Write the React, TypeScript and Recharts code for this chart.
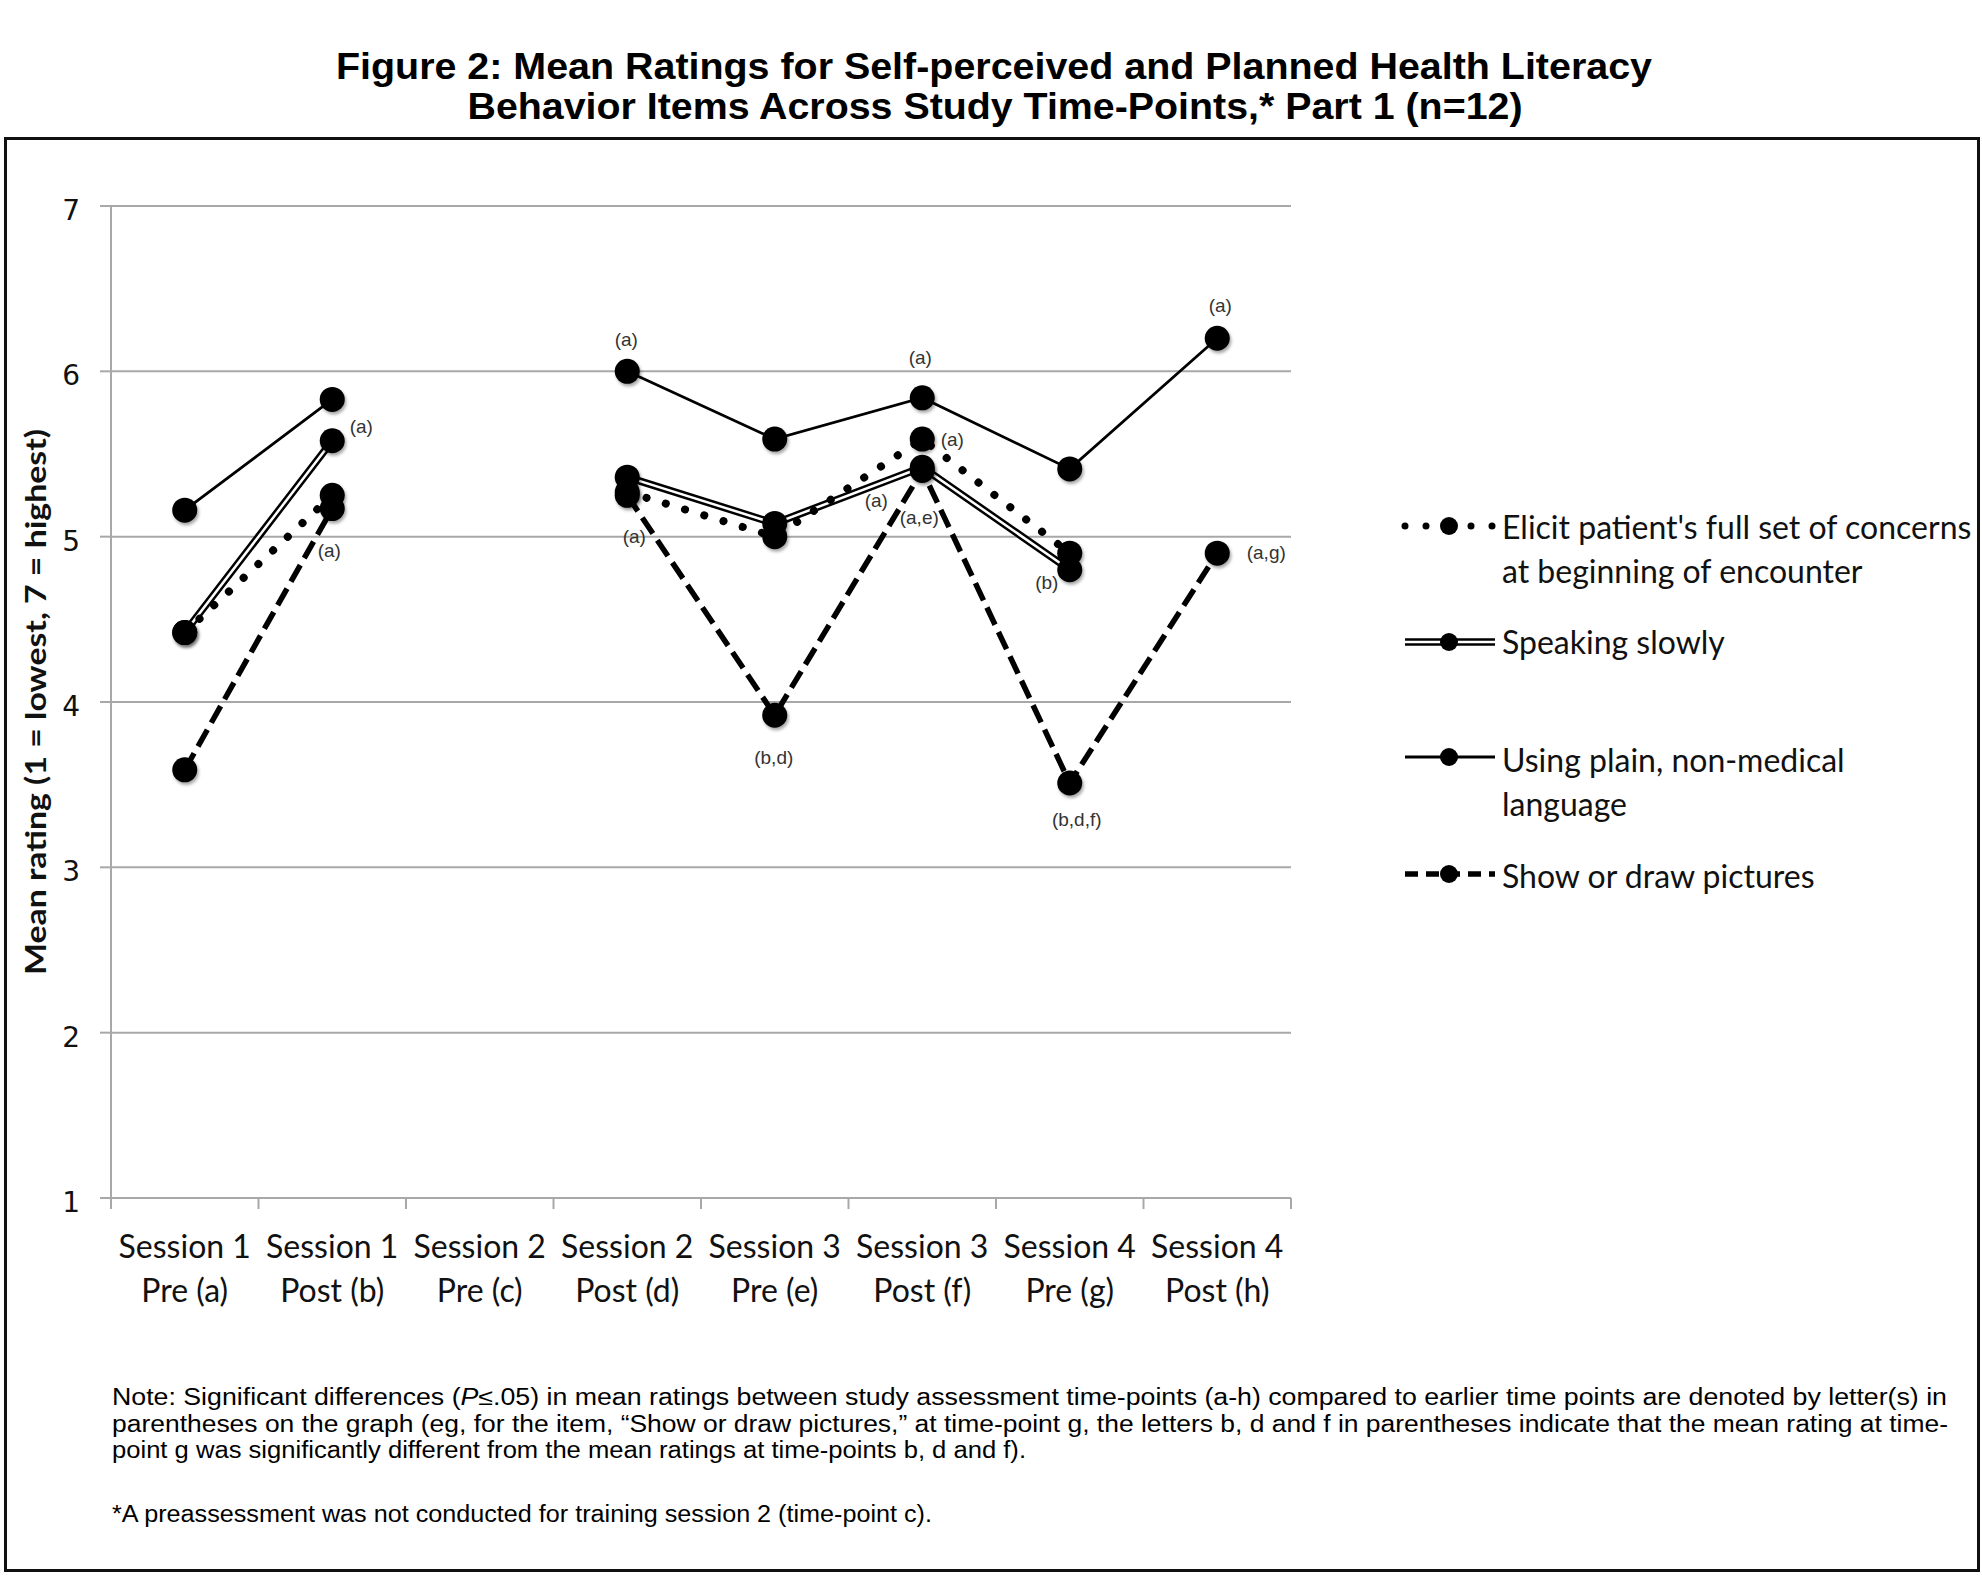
import React from 'react';
import { LineChart, Line, XAxis, YAxis, CartesianGrid, Legend, LabelList, Label } from 'recharts';

// ---------- data ----------
const sessionNames = ['Session 1', 'Session 1', 'Session 2', 'Session 2', 'Session 3', 'Session 3', 'Session 4', 'Session 4'];
const timePoints = ['Pre (a)', 'Post (b)', 'Pre (c)', 'Post (d)', 'Pre (e)', 'Post (f)', 'Pre (g)', 'Post (h)'];

const elicitValues = [4.42, 5.25, null, 5.27, 5.0, 5.59, 4.9, null];
const speakingValues = [4.42, 5.58, null, 5.36, 5.08, 5.42, 4.8, null];
const plainValues = [5.16, 5.83, null, 6.0, 5.59, 5.84, 5.41, 6.2];
const picturesValues = [3.59, 5.17, null, 5.25, 3.92, 5.4, 3.51, 4.9];

const elicitSig = [null, null, null, null, null, '(a)', null, null];
const speakingSig = [null, '(a)', null, null, null, '(a)', '(b)', null];
const plainSig = [null, null, null, '(a)', null, '(a)', null, '(a)'];
const picturesSig = [null, '(a)', null, '(a)', '(b,d)', '(a,e)', '(b,d,f)', '(a,g)'];

const yTicks = [1, 2, 3, 4, 5, 6, 7];

const titleLines = [
  'Figure 2: Mean Ratings for Self-perceived and Planned Health Literacy',
  'Behavior Items Across Study Time-Points,* Part 1 (n=12)',
];
const yAxisTitle = 'Mean rating (1 = lowest, 7 = highest)';
const legendLabels = [
  ["Elicit patient's full set of concerns", 'at beginning of encounter'],
  ['Speaking slowly'],
  ['Using plain, non-medical', 'language'],
  ['Show or draw pictures'],
];
const noteLines = [
  'Note: Significant differences (P≤.05) in mean ratings between study assessment time-points (a-h) compared to earlier time points are denoted by letter(s) in',
  'parentheses on the graph (eg, for the item, \u201cShow or draw pictures,\u201d at time-point g, the letters b, d and f in parentheses indicate that the mean rating at time-',
  'point g was significantly different from the mean ratings at time-points b, d and f).',
  '*A preassessment was not conducted for training session 2 (time-point c).',
];

const data = timePoints.map((tp, i) => ({
  tp,
  session: sessionNames[i],
  elicit: elicitValues[i],
  speaking: speakingValues[i],
  plain: plainValues[i],
  pictures: picturesValues[i],
  elicitSig: elicitSig[i],
  speakingSig: speakingSig[i],
  plainSig: plainSig[i],
  picturesSig: picturesSig[i],
}));

// ---------- styles ----------
const GRID = '#a8a8a8';
const CAL = "Lato, 'Open Sans', sans-serif";
const ARIAL = "'Liberation Sans', Arial, Helvetica, sans-serif";
const DOT_R = 12.5;

const labelOffsets: Record<string, Record<number, [number, number]>> = {
  elicit: { 5: [30, 0] },
  speaking: { 1: [29, -14], 5: [-46, 33], 6: [-23, 13] },
  plain: { 3: [-1, -32], 5: [-2, -40], 7: [3, -33] },
  pictures: { 1: [-3, 42], 3: [7, 41], 4: [-1, 42], 5: [-3, 47], 6: [7, 36], 7: [49, -1] },
};

const renderDot = (props: any) => {
  const { cx, cy, index } = props;
  if (cx == null || cy == null || Number.isNaN(cy)) return <g key={'n' + index} />;
  return <circle key={'d' + index} cx={cx} cy={cy} r={DOT_R} fill="#000" filter="url(#dotShadow)" />;
};

const makeLabel = (series: string) => (props: any) => {
  const { x, y, value, index } = props;
  if (value == null || value === '' || x == null || y == null) return null;
  const off = labelOffsets[series][index] || [0, 0];
  return (
    <text
      key={series + index}
      x={x + off[0]}
      y={y + off[1]}
      textAnchor="middle"
      dominantBaseline="central"
      fontFamily={ARIAL}
      fontSize={19}
      fill="#333"
    >
      {value}
    </text>
  );
};

const XTick = (props: any) => {
  const { x, y, index, width, visibleTicksCount } = props;
  const half = width / visibleTicksCount / 2;
  const last = index === visibleTicksCount - 1;
  return (
    <g>
      <line x1={x - half} x2={x - half} y1={y} y2={y + 11} stroke={GRID} strokeWidth={2} />
      {last && <line x1={x + half} x2={x + half} y1={y} y2={y + 11} stroke={GRID} strokeWidth={2} />}
      <text x={x} y={y + 60} textAnchor="middle" fontFamily={CAL} fontSize={32} fill="#111">
        {sessionNames[index]}
      </text>
      <text x={x} y={y + 104} textAnchor="middle" fontFamily={CAL} fontSize={32} fill="#111">
        {timePoints[index]}
      </text>
    </g>
  );
};

const YTick = (props: any) => {
  const { x, y, payload } = props;
  return (
    <text x={x} y={y + 4} dy="0.355em" textAnchor="end" fontFamily="'DejaVu Sans', Verdana, sans-serif" fontSize={28} fill="#111">
      {payload.value}
    </text>
  );
};

const YTitle = (props: any) => {
  const vb = props.viewBox || {};
  const cx = vb.x - 16;
  const cy = vb.y + vb.height / 2;
  return (
    <text
      x={cx}
      y={cy}
      transform={`rotate(-90 ${cx} ${cy})`}
      textAnchor="middle"
      dominantBaseline="central"
      fontFamily={CAL}
      fontWeight="bold"
      fontSize={28}
      fill="#111"
      textLength={546}
      lengthAdjust="spacingAndGlyphs"
    >
      {yAxisTitle}
    </text>
  );
};

const LegendContent = () => {
  const x0 = 15;
  const x1 = 105;
  const mx = 60;
  const tx = 112;
  const rows = [46, 162, 277, 394];
  const baselines = [[59, 103], [174], [292, 336], [408]];
  return (
    <svg width={590} height={440} style={{ display: 'block' }}>
      <g>
        {[15, 36, 81, 102].map((cx) => (
          <circle key={cx} cx={cx} cy={rows[0]} r={3.5} fill="#000" />
        ))}
        <circle cx={mx - 1} cy={rows[0]} r={9} fill="#000" />
      </g>
      <g>
        <line x1={x0} x2={x1} y1={rows[1]} y2={rows[1]} stroke="#000" strokeWidth={7.5} />
        <line x1={x0 - 1} x2={x1 + 1} y1={rows[1]} y2={rows[1]} stroke="#fff" strokeWidth={2.5} />
        <circle cx={mx - 1} cy={rows[1]} r={9} fill="#000" />
      </g>
      <g>
        <line x1={x0} x2={x1} y1={rows[2]} y2={rows[2]} stroke="#000" strokeWidth={3} />
        <circle cx={mx - 1} cy={rows[2]} r={9} fill="#000" />
      </g>
      <g>
        <line x1={x0} x2={x1} y1={rows[3]} y2={rows[3]} stroke="#000" strokeWidth={5.5} strokeDasharray="13 8" />
        <circle cx={mx - 1} cy={rows[3]} r={9} fill="#000" />
      </g>
      {legendLabels.map((lines, i) =>
        lines.map((ln, j) => (
          <text key={i + '-' + j} x={tx} y={baselines[i][j]} fontFamily={CAL} fontSize={32} fill="#111">
            {ln}
          </text>
        ))
      )}
    </svg>
  );
};

export default function App() {
  const [pre, post] = noteLines[0].split('(P');
  return (
    <div style={{ position: 'absolute', left: 0, top: 0, width: 1982, height: 1583, background: '#fff', overflow: 'hidden' }}>
      <div
        style={{
          position: 'absolute',
          left: 4,
          top: 137,
          width: 1976,
          height: 1435,
          border: '3px solid #111',
          boxSizing: 'border-box',
        }}
      />
      <div style={{ position: 'absolute', left: 0, top: 0 }}>
        <LineChart width={1982} height={1583} data={data} margin={{ top: 206, right: 691, bottom: 265, left: 51 }}>
          <defs>
            <filter id="dotShadow" x="-60%" y="-60%" width="220%" height="220%">
              <feDropShadow dx="1.5" dy="2.5" stdDeviation="1.8" floodColor="#000" floodOpacity="0.35" />
            </filter>
          </defs>
          <CartesianGrid horizontal vertical={false} stroke={GRID} strokeWidth={2} />
          <XAxis
            dataKey="tp"
            scale="band"
            interval={0}
            height={120}
            tickLine={false}
            tickSize={0}
            tickMargin={0}
            axisLine={{ stroke: GRID, strokeWidth: 2 }}
            tick={(p: any) => <XTick {...p} />}
          />
          <YAxis
            type="number"
            domain={[1, 7]}
            ticks={yTicks}
            interval={0}
            width={60}
            tickSize={11}
            tickMargin={20}
            tickLine={{ stroke: GRID, strokeWidth: 2 }}
            axisLine={{ stroke: GRID, strokeWidth: 2 }}
            tick={(p: any) => <YTick {...p} />}
            label={<Label content={(p: any) => <YTitle {...p} />} />}
          />
          <Line
            dataKey="plain"
            stroke="#000"
            strokeWidth={2.75}
            dot={renderDot}
            activeDot={false}
            isAnimationActive={false}
            connectNulls={false}
            legendType="none"
          >
            <LabelList dataKey="plainSig" content={makeLabel('plain')} />
          </Line>
          <Line
            dataKey="pictures"
            stroke="#000"
            strokeWidth={5.5}
            strokeDasharray="19 8"
            dot={renderDot}
            activeDot={false}
            isAnimationActive={false}
            connectNulls={false}
            legendType="none"
          >
            <LabelList dataKey="picturesSig" content={makeLabel('pictures')} />
          </Line>
          <Line
            dataKey="speaking"
            stroke="#000"
            strokeWidth={7.5}
            dot={false}
            activeDot={false}
            isAnimationActive={false}
            connectNulls={false}
            legendType="none"
          />
          <Line
            dataKey="speaking"
            stroke="#fff"
            strokeWidth={2.5}
            dot={renderDot}
            activeDot={false}
            isAnimationActive={false}
            connectNulls={false}
            legendType="none"
          >
            <LabelList dataKey="speakingSig" content={makeLabel('speaking')} />
          </Line>
          <Line
            dataKey="elicit"
            stroke="#000"
            strokeWidth={8}
            strokeDasharray="0.1 20"
            strokeLinecap="round"
            dot={renderDot}
            activeDot={false}
            isAnimationActive={false}
            connectNulls={false}
            legendType="none"
          >
            <LabelList dataKey="elicitSig" content={makeLabel('elicit')} />
          </Line>
          <Legend
            layout="vertical"
            align="center"
            verticalAlign="middle"
            wrapperStyle={{ position: 'absolute', left: 1390, top: 480, width: 590, height: 440 }}
            content={() => <LegendContent />}
          />
        </LineChart>
      </div>
      <svg width={1982} height={1583} style={{ position: 'absolute', left: 0, top: 0, pointerEvents: 'none' }}>
        <text x={994} y={79} textAnchor="middle" fontFamily={ARIAL} fontWeight="bold" fontSize={37} fill="#000" textLength={1316} lengthAdjust="spacingAndGlyphs">
          {titleLines[0]}
        </text>
        <text x={995} y={119} textAnchor="middle" fontFamily={ARIAL} fontWeight="bold" fontSize={37} fill="#000" textLength={1055} lengthAdjust="spacingAndGlyphs">
          {titleLines[1]}
        </text>
        <text x={112} y={1405} fontFamily={ARIAL} fontSize={23} fill="#000" textLength={1835} lengthAdjust="spacingAndGlyphs">
          {pre}(<tspan fontStyle="italic">P</tspan>
          {post}
        </text>
        <text x={112} y={1432} fontFamily={ARIAL} fontSize={23} fill="#000" textLength={1836} lengthAdjust="spacingAndGlyphs">
          {noteLines[1]}
        </text>
        <text x={112} y={1458} fontFamily={ARIAL} fontSize={23} fill="#000" textLength={914} lengthAdjust="spacingAndGlyphs">
          {noteLines[2]}
        </text>
        <text x={112} y={1522} fontFamily={ARIAL} fontSize={23} fill="#000" textLength={820} lengthAdjust="spacingAndGlyphs">
          {noteLines[3]}
        </text>
      </svg>
    </div>
  );
}
